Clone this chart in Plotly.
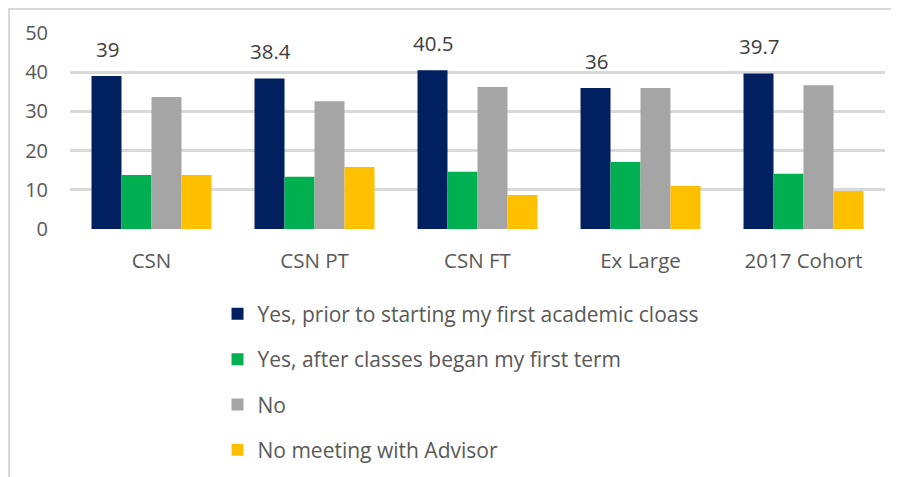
import plotly.graph_objects as go

categories = ["CSN", "CSN PT", "CSN FT", "Ex Large", "2017 Cohort"]
series_names = [
    "Yes, prior to starting my first academic cloass",
    "Yes, after classes began my first term",
    "No",
    "No meeting with Advisor",
]
yes_prior = [39, 38.4, 40.5, 36, 39.7]
yes_after = [13.8, 13.3, 14.6, 17.1, 14.1]
no_vals = [33.7, 32.6, 36.2, 36.0, 36.7]
no_meeting = [13.8, 15.8, 8.7, 11.0, 9.7]
y_ticks = [0, 10, 20, 30, 40, 50]

colors = ["#002060", "#00B050", "#A5A5A5", "#FFC000"]
all_series = [yes_prior, yes_after, no_vals, no_meeting]

FONT = "Open Sans"
TEXT = "#595959"
fig = go.Figure()
for i, (name, vals) in enumerate(zip(series_names, all_series)):
    fig.add_trace(go.Bar(
        x=categories, y=vals, name=name,
        marker=dict(color=colors[i], line=dict(width=0)),
        legendgroup=f"g{i}",
        hoverinfo="x+y+name",
    ))

annotations = []
for c, v in zip(categories, yes_prior):
    annotations.append(dict(
        x=c, y=v, xref="x", yref="y", text=f"{v:g}", showarrow=False,
        xshift=-44, yshift=27, yanchor="middle", xanchor="center",
        font=dict(family=FONT, size=20.5, color="#404040"),
    ))

PW = 815.0
PH = 196.5
fig.update_layout(
    width=899, height=477,
    margin=dict(l=62, r=22, t=25, b=256, pad=0),
    paper_bgcolor="white", plot_bgcolor="white",
    barmode="group", bargap=0.264, bargroupgap=0,
    font=dict(family=FONT, size=20, color=TEXT),
    showlegend=True,
    legend=dict(
        orientation="v", x=0.181, xanchor="left", y=-0.33, yanchor="top",
        font=dict(family=FONT, size=21, color=TEXT),
        traceorder="grouped", tracegroupgap=15,
        itemsizing="constant", bgcolor="rgba(0,0,0,0)",
    ),
    annotations=annotations,
    shapes=[
        dict(type="line", xref="paper", yref="paper",
             x0=-62/PW, x1=1.05, y0=1 + 24/PH, y1=1 + 24/PH,
             line=dict(color="#D9D9D9", width=2)),
        dict(type="line", xref="paper", yref="paper",
             x0=-61/PW, x1=-61/PW, y0=1 + 24/PH, y1=-1.4,
             line=dict(color="#D9D9D9", width=2)),
    ],
)
fig.update_yaxes(
    range=[0, 50], tickvals=y_ticks, showgrid=True, gridcolor="#D9D9D9", gridwidth=2.5,
    zeroline=False, showline=False, ticks="", ticklabelstandoff=21,
    tickfont=dict(family=FONT, size=20, color=TEXT), fixedrange=True,
)
fig.update_xaxes(
    showline=False, ticks="", ticklabelstandoff=17, showgrid=False,
    tickfont=dict(family=FONT, size=20.5, color=TEXT), fixedrange=True,
)
fig.write_html("out.html")
